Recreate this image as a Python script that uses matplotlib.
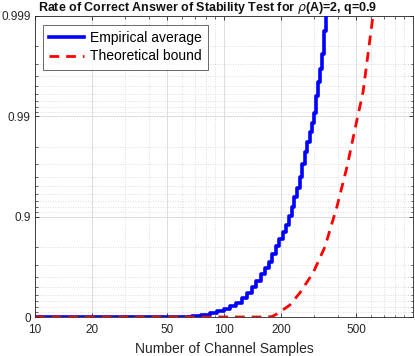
import numpy as np
import matplotlib
matplotlib.use("Agg")
import matplotlib.pyplot as plt
from matplotlib.ticker import FixedLocator, NullFormatter

plt.rcParams['font.family'] = ['Liberation Sans', 'DejaVu Sans']
plt.rcParams['mathtext.fontset'] = 'dejavusans'

# Empirical average
emp_n = [10, 64, 72, 80, 88, 96, 104, 112, 120, 128, 136, 144, 152, 160, 168, 176,
         184, 192, 200, 208, 216, 224, 232, 240, 248, 256, 264, 272, 280, 288,
         296, 304, 312, 320, 328, 336, 344, 352, 380]
emp_p = [0.0, 0.0, 0.023, 0.045, 0.088, 0.129, 0.168, 0.224, 0.276, 0.354, 0.425,
         0.499, 0.563, 0.628, 0.676, 0.718, 0.766, 0.805, 0.834, 0.859, 0.880,
         0.9023, 0.9206, 0.9369, 0.9487, 0.9593, 0.9698, 0.9771, 0.9818, 0.98555,
         0.98825, 0.99067, 0.99369, 0.99543, 0.99661, 0.9976, 0.99859, 0.9995, 0.9995]

# Theoretical bound
th_n = [10, 170, 180, 191, 205, 223, 252, 296, 342, 396, 448, 506, 544, 614, 650]
th_p = [0.0, 0.0, 0.012, 0.07, 0.15, 0.24, 0.425, 0.637, 0.800, 0.9206, 0.9684,
        0.9893, 0.99425, 0.999, 0.9995]

major_y = [0, 0.9, 0.99, 0.999]
major_y_labels = ['0', '0.9', '0.99', '0.999']
minor_y = [0.1, 0.2, 0.3, 0.4, 0.5, 0.6, 0.7, 0.8,
           0.91, 0.92, 0.93, 0.94, 0.95, 0.96, 0.97, 0.98,
           0.991, 0.992, 0.993, 0.994, 0.995, 0.996, 0.997, 0.998]
x_ticks = [10, 20, 50, 100, 200, 500]


def fwd(p):
    p = np.clip(np.asarray(p, dtype=float), -1, 1 - 1e-9)
    return -np.log10(1 - p)


def inv(v):
    return 1 - 10 ** (-np.asarray(v, dtype=float))


fig = plt.figure(figsize=(4.15, 3.56), dpi=100)
ax = fig.add_axes([35 / 415, 39 / 356, 378 / 415, 301 / 356])

ax.set_xscale('log')
ax.set_yscale('function', functions=(fwd, inv))

ax.plot(emp_n, emp_p, color='blue', lw=2.6, drawstyle='steps-mid',
        label='Empirical average', zorder=3)
ax.plot(th_n, th_p, color='red', lw=2.0, ls=(0, (3.5, 2.5)),
        label='Theoretical bound', zorder=4)

ax.set_xlim(10, 1000)
ax.set_ylim(0, 0.999)
ax.set_xticks(x_ticks)
ax.set_xticklabels([str(t) for t in x_ticks])
ax.yaxis.set_major_locator(FixedLocator(major_y))
ax.set_yticklabels(major_y_labels)
ax.yaxis.set_minor_locator(FixedLocator(minor_y))
ax.yaxis.set_minor_formatter(NullFormatter())
ax.xaxis.set_minor_formatter(NullFormatter())

ax.grid(True, which='major', color='#dcdcdc', lw=0.7)
ax.grid(True, which='minor', color='#d0d0d0', lw=0.6, ls=(0, (1, 2)))
ax.set_axisbelow(True)

ax.tick_params(which='both', direction='in', top=True, right=True,
               colors='#262626', labelsize=8.5, labelcolor='#262626')
ax.tick_params(which='major', length=3, width=0.6)
ax.tick_params(which='minor', length=1.8, width=0.5)
ax.tick_params(axis='x', pad=5)
ax.tick_params(axis='y', pad=3)
for s in ax.spines.values():
    s.set_color('#262626')
    s.set_linewidth(0.6)

ax.set_xlabel('Number of Channel Samples', fontsize=10, color='#262626', labelpad=4)
fig.text(0.5, 0.977, r'Rate of Correct Answer of Stability Test for $\rho$(A)=2, q=0.9',
         ha='center', va='center', fontsize=9, fontweight='bold', color='#111111')

leg = ax.legend(loc='upper left', fontsize=10, frameon=True, fancybox=False,
                edgecolor='#262626', handlelength=2.5, borderpad=0.45,
                labelspacing=0.3, handletextpad=0.45, borderaxespad=0,
                bbox_to_anchor=(0.021, 0.97))
leg.get_frame().set_linewidth(0.6)

fig.savefig('out.png', dpi=100)
